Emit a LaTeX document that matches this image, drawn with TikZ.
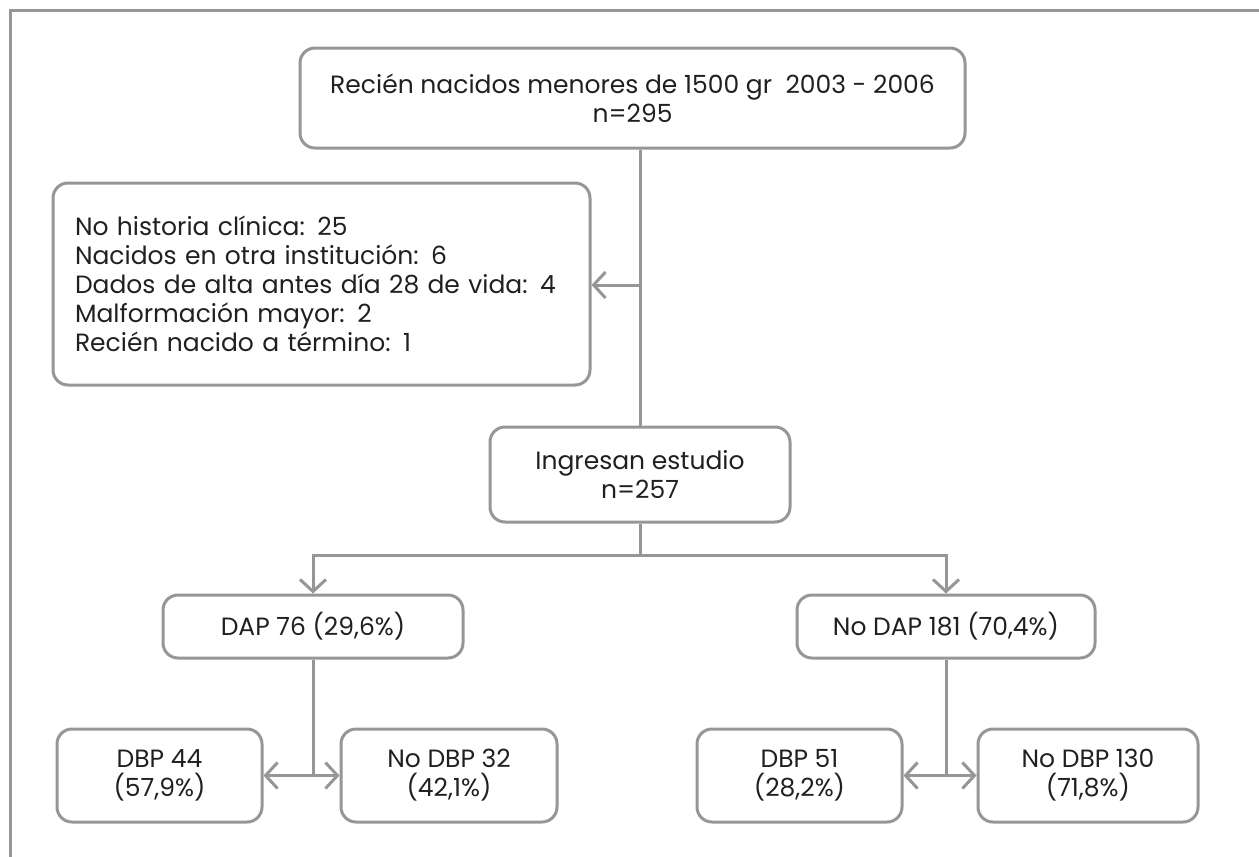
\documentclass[tikz,border=0pt]{standalone}
\usepackage{fontspec}
\setmainfont{Poppins}
\usetikzlibrary{arrows.meta}
\definecolor{lineGray}{RGB}{150,150,152}
\definecolor{textGray}{RGB}{35,31,32}
\tikzset{
  box/.style={draw=lineGray, line width=3pt, rounded corners=15pt, align=center,
    text=textGray, inner sep=0pt, font=\fontsize{25}{29}\selectfont},
  link/.style={draw=lineGray, line width=3pt},
  arr/.style={link, -{Straight Barb[length=12pt,width=26pt,line width=3pt]}}
}
\begin{document}
\begin{tikzpicture}[x=1pt,y=1pt,yscale=-1]
\useasboundingbox (0,0) rectangle (1259,857);

%Frame
\draw [lineGray, line width=3pt] (1259,10) -- (10,10) -- (10,857);

% Boxes
\node [box, minimum width=665pt, minimum height=100pt] (recien) at (632.5,98) {Recién nacidos menores de 1500 gr\ \ 2003 - 2006\\n=295};
\node [box, minimum width=537pt, minimum height=202pt, text width=493pt, align=left] (excl) at (321.5,284) {No historia clínica: 25\\Nacidos en otra institución: 6\\Dados de alta antes día 28 de vida: 4\\Malformación mayor: 2\\Recién nacido a término: 1};
\node [box, minimum width=300pt, minimum height=95pt] (ingresan) at (640,474.5) {Ingresan estudio\\n=257};
\node [box, minimum width=300pt, minimum height=63pt] (dap) at (313,626.5) {DAP 76 (29,6\%)};
\node [box, minimum width=298pt, minimum height=63pt] (nodap) at (946,626.5) {No DAP 181 (70,4\%)};
\node [box, minimum width=205pt, minimum height=93pt] (dbpa) at (159.5,775.5) {DBP 44\\(57,9\%)};
\node [box, minimum width=216pt, minimum height=93pt] (nodbpa) at (449,775.5) {No DBP 32\\(42,1\%)};
\node [box, minimum width=205pt, minimum height=93pt] (dbpb) at (799.5,775.5) {DBP 51\\(28,2\%)};
\node [box, minimum width=220pt, minimum height=93pt] (nodbpb) at (1088,775.5) {No DBP 130\\(71,8\%)};

% Connectors
\coordinate (trunk) at (640,285);
\coordinate (split) at (640,555);
\draw [link] (recien.south -| trunk) -- (ingresan.north);
\draw [arr] (trunk) -- (excl.east |- trunk);
\draw [link] (ingresan.south) -- (split);
\draw [arr] (split) -| (dap.north);
\draw [arr] (split) -| (nodap.north);
\draw [link] (dap.south) -- (dap.south |- dbpa.east);
\draw [arr] (dap.south |- dbpa.east) -- (dbpa.east);
\draw [arr] (dap.south |- dbpa.east) -- (nodbpa.west);
\draw [link] (nodap.south) -- (nodap.south |- dbpb.east);
\draw [arr] (nodap.south |- dbpb.east) -- (dbpb.east);
\draw [arr] (nodap.south |- dbpb.east) -- (nodbpb.west);

\end{tikzpicture}
\end{document}
